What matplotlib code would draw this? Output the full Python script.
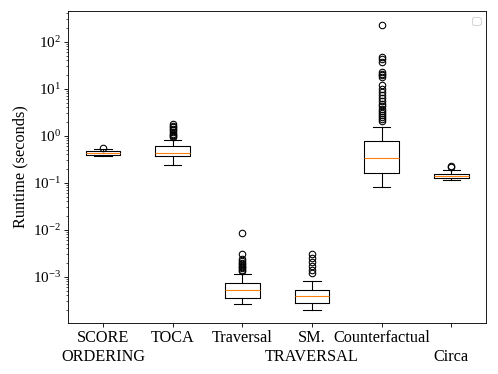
import matplotlib as mpl

mpl.use('Agg')

import matplotlib.pyplot as plt

plt.rcParams['font.family'] = 'serif'
plt.rcParams['font.serif'] = ['Liberation Serif', 'DejaVu Serif']
plt.rcParams['mathtext.fontset'] = 'stix'

# methods on the x axis
labels = ['SCORE\nORDERING', 'TOCA', 'Traversal', 'SM.\nTRAVERSAL',
          'Counterfactual', '\nCirca']

# box statistics (seconds)
whislo = [0.364, 0.234, 2.61e-4, 2.0e-4, 0.0805, 0.116]
q1 = [0.388, 0.369, 3.61e-4, 2.75e-4, 0.16, 0.125]
med = [0.43, 0.428, 5.1e-4, 3.87e-4, 0.335, 0.138]
q3 = [0.472, 0.604, 7.34e-4, 5.2e-4, 0.787, 0.156]
whishi = [0.513, 0.826, 1.17e-3, 7.94e-4, 1.53, 0.189]

fliers = [
    [0.56],
    [0.95, 1.0, 1.05, 1.1, 1.2, 1.3, 1.4, 1.5, 1.6, 1.75],
    [8.4e-3, 3.0e-3, 2.4e-3, 2.2e-3, 2.0e-3, 1.85e-3, 1.7e-3, 1.6e-3,
     1.5e-3, 1.4e-3, 1.3e-3],
    [3.05e-3, 2.54e-3, 2.09e-3, 1.72e-3, 1.41e-3, 1.2e-3],
    [224, 48, 42, 37, 23, 21, 20, 18, 12, 10, 8.5, 7.2, 6.2, 5.4, 4.7,
     4.2, 3.7, 3.3, 3.0, 2.7, 2.5, 2.3, 2.1],
    [0.22, 0.23],
]


def main():
    fig = plt.figure(figsize=(498 / 78, 374 / 78), dpi=78)
    ax = fig.add_axes([0.137, 0.137, 0.839, 0.833])

    stats = []
    for i in range(len(labels)):
        stats.append({'whislo': whislo[i], 'q1': q1[i], 'med': med[i],
                      'q3': q3[i], 'whishi': whishi[i], 'fliers': fliers[i]})

    ax.bxp(stats, showfliers=True)
    ax.set_yscale('log')
    ax.set_ylim(1.05e-4, 445)
    ax.set_xticks(range(1, len(labels) + 1))
    ax.set_xticklabels(labels, fontsize=15)
    ax.tick_params(axis='y', labelsize=14)
    ax.set_ylabel('Runtime (seconds)', fontsize=15)
    ax.legend()

    fig.savefig('out.png', dpi=78)


main()
